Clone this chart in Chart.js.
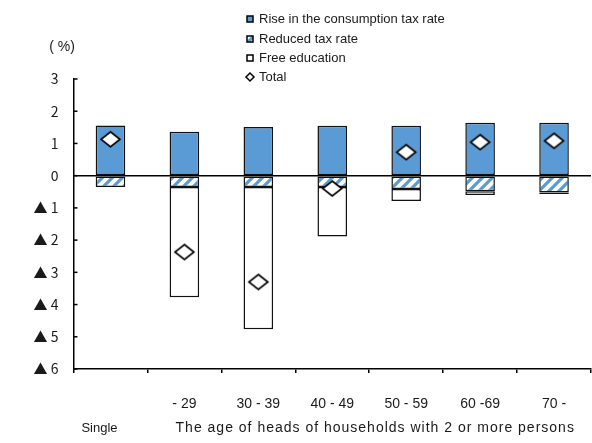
<!doctype html>
<html lang="en">
<head>
<meta charset="UTF-8" />
<title>Household burden by age group</title>
<script src="https://cdn.jsdelivr.net/npm/chart.js"></script>
<style>
  body { margin: 0; background: #fff; }
  .wrap { width: 592px; height: 443px; overflow: hidden; }
</style>
</head>
<body>
<div class="wrap"><canvas id="burdenChart" width="600" height="443"></canvas></div>
<script>
  // household groups on the x axis
  const ageGroups = ['Single', '- 29', '30 - 39', '40 - 49', '50 - 59', '60 -69', '70 -'];
  // change in burden, % of income
  const riseTax = [1.56, 1.36, 1.51, 1.55, 1.55, 1.64, 1.64];
  const reducedTax = [-0.35, -0.35, -0.35, -0.35, -0.41, -0.48, -0.52];
  const freeEducation = [0, -3.42, -4.42, -1.54, -0.38, -0.12, -0.05];
  const total = [1.13, -2.37, -3.3, -0.4, 0.73, 1.04, 1.08];

  const seriesNames = ['Rise in the consumption tax rate', 'Reduced tax rate', 'Free education', 'Total'];
  const groupCaptions = ['Single', 'The age of heads of households with 2 or more persons'];

  const FONT = '"Liberation Sans", Arial, "Noto Sans CJK JP", sans-serif';
  const JP_FONT = '"Noto Sans CJK JP", "Liberation Sans", sans-serif';
  const TEXT = '#1a1a1a';
  const BLUE = '#5b9bd5';

  const canvas = document.getElementById('burdenChart');
  const ctx0 = canvas.getContext('2d');

  // white / blue diagonal stripes for the reduced rate
  function makeHatch() {
    const c = document.createElement('canvas');
    c.width = 10;
    c.height = 10;
    const g = c.getContext('2d');
    g.fillStyle = '#fff';
    g.fillRect(0, 0, 10, 10);
    g.strokeStyle = BLUE;
    g.lineWidth = 3.2;
    g.beginPath();
    g.moveTo(-5, 5); g.lineTo(5, -5);
    g.moveTo(0, 10); g.lineTo(10, 0);
    g.moveTo(5, 15); g.lineTo(15, 5);
    g.stroke();
    return ctx0.createPattern(c, 'repeat');
  }

  function makeDiamond(w, h, lw) {
    const c = document.createElement('canvas');
    c.width = w + 4;
    c.height = h + 4;
    const g = c.getContext('2d');
    g.beginPath();
    g.moveTo(c.width / 2, 2);
    g.lineTo(c.width - 2, c.height / 2);
    g.lineTo(c.width / 2, c.height - 2);
    g.lineTo(2, c.height / 2);
    g.closePath();
    g.fillStyle = '#fff';
    g.fill();
    g.lineWidth = lw;
    g.strokeStyle = '#000';
    g.stroke();
    return c;
  }

  const hatch = makeHatch();
  const diamond = makeDiamond(19, 15, 1.6);

  // legend, unit label, second row of x labels, inward y ticks
  const decorations = {
    id: 'decorations',
    afterDraw(chart) {
      const { ctx, chartArea, scales: { x, y } } = chart;
      ctx.save();

      ctx.strokeStyle = '#000';
      ctx.lineWidth = 1.5;
      y.ticks.forEach((t) => {
        const py = y.getPixelForValue(t.value);
        ctx.beginPath();
        ctx.moveTo(chartArea.left, py);
        ctx.lineTo(chartArea.left + 4, py);
        ctx.stroke();
      });

      ctx.fillStyle = TEXT;
      ctx.textAlign = 'center';
      ctx.textBaseline = 'middle';
      ctx.font = '14px ' + FONT;
      ctx.fillText('( %)', 62, 47);

      const rowY = 428;
      ctx.font = '13px ' + FONT;
      ctx.fillText(groupCaptions[0], x.getPixelForValue(0) - 11, rowY);
      const mid = (x.getPixelForValue(1) + x.getPixelForValue(ageGroups.length - 1)) / 2;
      ctx.font = '14px ' + FONT;
      ctx.letterSpacing = '1px';
      ctx.fillText(groupCaptions[1], mid + 6, rowY);
      ctx.letterSpacing = '0px';

      // legend column
      const lx = 247;
      const rows = [19, 39, 58, 77];
      ctx.font = '13px ' + FONT;
      ctx.textAlign = 'left';
      seriesNames.forEach((name, i) => {
        const cy = rows[i];
        ctx.lineWidth = 1.5;
        ctx.strokeStyle = '#000';
        if (i < 3) {
          ctx.fillStyle = i === 0 ? BLUE : i === 1 ? hatch : '#fff';
          ctx.fillRect(lx, cy - 3, 6, 6);
          ctx.strokeRect(lx, cy - 3, 6, 6);
        } else {
          ctx.beginPath();
          ctx.moveTo(lx + 3, cy - 4);
          ctx.lineTo(lx + 7, cy);
          ctx.lineTo(lx + 3, cy + 4);
          ctx.lineTo(lx - 1, cy);
          ctx.closePath();
          ctx.fillStyle = '#fff';
          ctx.fill();
          ctx.stroke();
        }
        ctx.fillStyle = TEXT;
        ctx.fillText(name, lx + 12, cy);
      });

      ctx.restore();
    }
  };

  Chart.defaults.font.family = FONT;
  Chart.defaults.font.size = 13;
  Chart.defaults.color = TEXT;

  const barStyle = {
    borderColor: '#111',
    borderWidth: 1.5,
    borderSkipped: false,
    barPercentage: 0.4,
    categoryPercentage: 1.0,
    stack: 'burden',
    order: 1
  };

  new Chart(canvas, {
    data: {
      labels: ageGroups,
      datasets: [
        { type: 'line', label: seriesNames[3], data: total, showLine: false,
          pointStyle: diamond, pointRadius: 8, stack: 'total', order: 0 },
        Object.assign({ type: 'bar', label: seriesNames[0], data: riseTax, backgroundColor: BLUE }, barStyle),
        Object.assign({ type: 'bar', label: seriesNames[1], data: reducedTax, backgroundColor: hatch }, barStyle),
        Object.assign({ type: 'bar', label: seriesNames[2], data: freeEducation, backgroundColor: '#fff' }, barStyle)
      ]
    },
    options: {
      responsive: false,
      animation: false,
      layout: { padding: { top: 79, right: 4, bottom: 0, left: 0 } },
      plugins: { legend: { display: false }, tooltip: { enabled: false } },
      scales: {
        x: {
          stacked: true,
          offset: true,
          grid: { display: true, drawOnChartArea: false, drawTicks: true, tickLength: 4, color: '#000', lineWidth: 1.5 },
          border: { display: true, color: '#000', width: 1.5 },
          ticks: {
            autoSkip: false,
            maxRotation: 0,
            padding: 23,
            font: { size: 14 },
            callback: (v, i) => (i === 0 ? '' : ageGroups[i])
          },
          afterFit: (scale) => { scale.height = 74; }
        },
        y: {
          stacked: true,
          min: -6,
          max: 3,
          ticks: {
            stepSize: 1,
            padding: 15,
            font: { family: JP_FONT, size: 14 },
            callback: (v) => (v < 0 ? '▲ ' + (-v) : String(v))
          },
          grid: {
            drawTicks: false,
            lineWidth: 1.5,
            color: (c) => (c.tick && c.tick.value === 0 ? '#000' : 'rgba(0,0,0,0)')
          },
          border: { display: true, color: '#000', width: 1.5 },
          afterFit: (scale) => { scale.width = 73.5; }
        }
      }
    },
    plugins: [decorations]
  });
</script>
</body>
</html>
